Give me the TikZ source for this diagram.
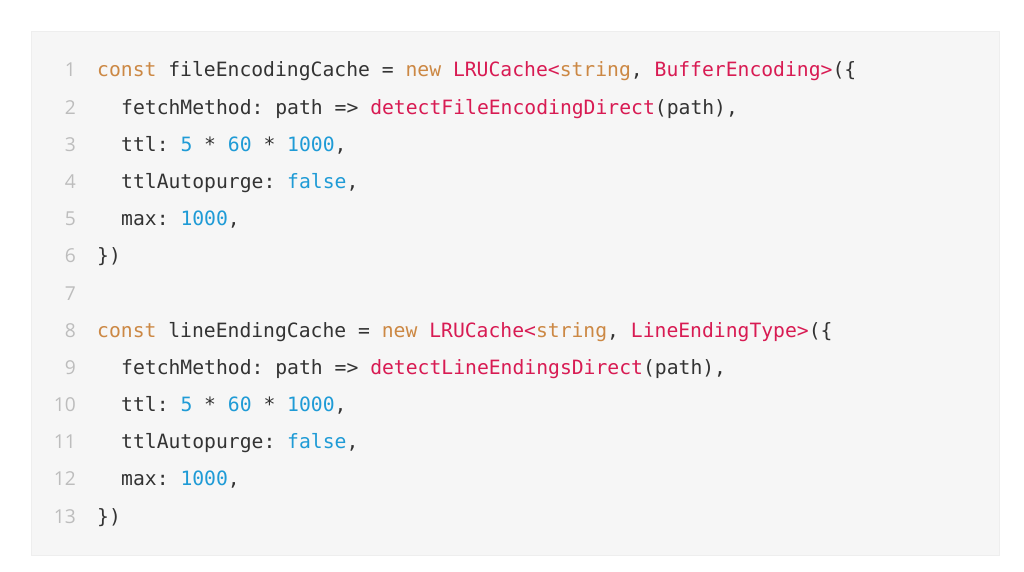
\documentclass[tikz,border=0pt]{standalone}
\usepackage{fontspec}
\setmonofont{DejaVu Sans Mono}
\newfontfamily\numfont{Open Sans}
\definecolor{bgbox}{HTML}{F6F6F6}
\definecolor{boxline}{HTML}{EEEEEE}
\definecolor{numgray}{HTML}{BDBDBD}
\definecolor{kw}{HTML}{CC8844}
\definecolor{fn}{HTML}{D81B53}
\definecolor{nm}{HTML}{1F9BD6}
\definecolor{tx}{HTML}{333333}
\newcommand{\K}[1]{\textcolor{kw}{#1}}
\newcommand{\F}[1]{\textcolor{fn}{#1}}
\newcommand{\N}[1]{\textcolor{nm}{#1}}
\tikzset{
  code/.style={anchor=base west, inner sep=0pt, text=tx, font=\ttfamily\fontsize{19.7}{22}\selectfont},
  lnum/.style={anchor=base east, inner sep=0pt, text=numgray, font=\numfont\fontsize{19.2}{22}\selectfont}
}
\begin{document}
\begin{tikzpicture}[x=1pt,y=-1pt]
\fill[white] (0,0) rectangle (1024,572);
\useasboundingbox (0,0) rectangle (1024,572);
\filldraw[fill=bgbox,draw=boxline,line width=0.6pt] (31,31) rectangle (999,555);
\def\bl{77}\def\dy{37.17}
\foreach \i in {1,...,13}{
  \node[lnum] (n\i) at (76,{\bl+(\i-1)*\dy}) {\i};
}
\node[code] (l1) at (97,{\bl+0*\dy}) {\K{const} fileEncodingCache = \K{new} \F{LRUCache<}\K{string}, \F{BufferEncoding>}(\{};
\node[code] (l2) at (121,{\bl+1*\dy}) {fetchMethod: path => \F{detectFileEncodingDirect}(path),};
\node[code] (l3) at (121,{\bl+2*\dy}) {ttl: \N{5} * \N{60} * \N{1000},};
\node[code] (l4) at (121,{\bl+3*\dy}) {ttlAutopurge: \N{false},};
\node[code] (l5) at (121,{\bl+4*\dy}) {max: \N{1000},};
\node[code] (l6) at (97,{\bl+5*\dy}) {\})};
\node[code] (l8) at (97,{\bl+7*\dy}) {\K{const} lineEndingCache = \K{new} \F{LRUCache<}\K{string}, \F{LineEndingType>}(\{};
\node[code] (l9) at (121,{\bl+8*\dy}) {fetchMethod: path => \F{detectLineEndingsDirect}(path),};
\node[code] (l10) at (121,{\bl+9*\dy}) {ttl: \N{5} * \N{60} * \N{1000},};
\node[code] (l11) at (121,{\bl+10*\dy}) {ttlAutopurge: \N{false},};
\node[code] (l12) at (121,{\bl+11*\dy}) {max: \N{1000},};
\node[code] (l13) at (97,{\bl+12*\dy}) {\})};
\end{tikzpicture}
\end{document}
